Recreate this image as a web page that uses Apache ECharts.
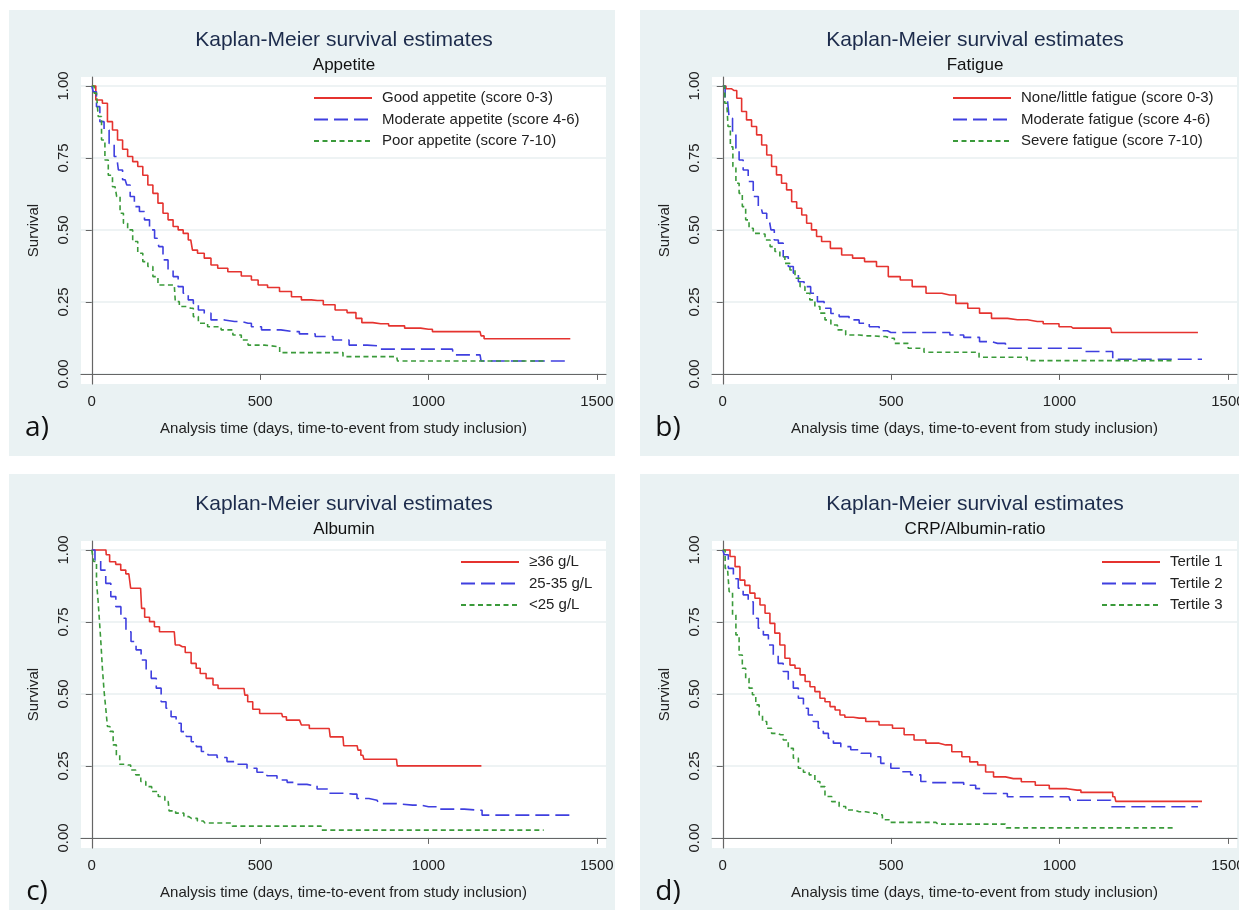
<!DOCTYPE html>
<html>
<head>
<meta charset="utf-8">
<title>Kaplan-Meier survival estimates</title>
<script src="https://cdn.jsdelivr.net/npm/echarts@6/dist/echarts.min.js"></script>
<style>
  html, body { margin: 0; padding: 0; background: #fff; }
  #chart { width: 1239px; height: 910px; }
</style>
</head>
<body>
<div id="chart"></div>
<script>
// axis ticks
const xTicks = [0, 500, 1000, 1500]
const yTicks = [0, 0.25, 0.5, 0.75, 1]

// a) Appetite  [days, survival]
const appetiteGood = [[0,1],[24,0.951],[39,0.94],[54,0.876],[69,0.847],[84,0.8125],[99,0.78],[114,0.755],[129,0.737],[144,0.72],[159,0.69],[174,0.656],[189,0.627],[204,0.593],[219,0.558],[234,0.535],[249,0.512],[264,0.5],[279,0.488],[294,0.465],[304,0.43],[324,0.419],[344,0.402],[364,0.378],[384,0.367],[424,0.355],[464,0.34],[484,0.326],[504,0.309],[540,0.30],[575,0.286],[611,0.268],[634,0.257],[670,0.255],[705,0.24],[740,0.222],[776,0.213],[793,0.193],[811,0.178],[858,0.174],[905,0.167],[953,0.159],[1000,0.155],[1023,0.147],[1153,0.147],[1159,0.132],[1171,0.122],[1421,0.122]]
const appetiteModerate = [[0,1],[9,0.98],[19,0.928],[29,0.876],[44,0.847],[59,0.80],[74,0.755],[84,0.708],[99,0.674],[109,0.656],[119,0.616],[134,0.581],[149,0.564],[164,0.535],[179,0.5],[194,0.471],[204,0.442],[219,0.396],[234,0.361],[249,0.338],[264,0.303],[279,0.28],[294,0.257],[309,0.245],[324,0.222],[344,0.211],[364,0.1875],[424,0.182],[464,0.176],[484,0.164],[524,0.153],[599,0.147],[634,0.139],[693,0.13],[740,0.118],[788,0.10],[847,0.098],[858,0.086],[1071,0.086],[1076,0.066],[1153,0.066],[1159,0.045],[1421,0.045]]
const appetitePoor = [[0,1],[14,0.975],[24,0.894],[34,0.8125],[44,0.743],[54,0.69],[69,0.65],[79,0.616],[89,0.558],[99,0.523],[114,0.5],[129,0.46],[144,0.419],[159,0.39],[174,0.373],[189,0.338],[204,0.309],[245,0.309],[251,0.251],[269,0.234],[294,0.228],[309,0.199],[324,0.176],[364,0.164],[404,0.153],[434,0.135],[454,0.118],[474,0.1],[552,0.095],[564,0.074],[740,0.074],[752,0.06],[905,0.06],[911,0.045],[1351,0.045]]

// b) Fatigue
const fatigueLittle = [[0,1],[19,0.99],[34,0.984],[49,0.957],[63,0.911],[78,0.882],[93,0.859],[108,0.83],[123,0.795],[138,0.76],[152,0.72],[167,0.691],[182,0.662],[197,0.639],[212,0.598],[227,0.575],[242,0.552],[256,0.523],[271,0.5],[286,0.477],[301,0.46],[338,0.436],[368,0.413],[403,0.402],[439,0.39],[474,0.373],[509,0.338],[545,0.326],[580,0.303],[627,0.28],[674,0.274],[710,0.245],[745,0.228],[780,0.211],[816,0.193],[875,0.188],[934,0.182],[969,0.174],[1028,0.164],[1040,0.159],[1152,0.159],[1158,0.144],[1411,0.144]]
const fatigueModerate = [[0,1],[14,0.951],[24,0.888],[34,0.836],[44,0.784],[53,0.743],[68,0.708],[83,0.668],[98,0.616],[113,0.581],[123,0.558],[138,0.535],[148,0.5],[158,0.465],[172,0.454],[187,0.407],[202,0.373],[217,0.35],[232,0.32],[251,0.303],[271,0.28],[291,0.251],[311,0.228],[331,0.21],[360,0.199],[390,0.1875],[420,0.176],[450,0.164],[479,0.15],[499,0.144],[663,0.144],[686,0.135],[745,0.127],[780,0.112],[816,0.106],[863,0.089],[1069,0.089],[1075,0.078],[1152,0.078],[1164,0.051],[1423,0.051]]
const fatigueSevere = [[0,1],[12,0.94],[19,0.859],[26,0.789],[34,0.72],[44,0.662],[53,0.627],[63,0.581],[73,0.535],[83,0.506],[98,0.488],[118,0.486],[133,0.465],[148,0.442],[162,0.425],[177,0.407],[192,0.384],[207,0.361],[222,0.332],[237,0.303],[251,0.28],[266,0.257],[281,0.234],[296,0.211],[311,0.1875],[331,0.17],[350,0.153],[380,0.135],[430,0.132],[469,0.13],[498,0.124],[521,0.106],[580,0.089],[615,0.075],[730,0.075],[792,0.058],[898,0.058],[910,0.046],[1343,0.046]]

// c) Albumin
const albuminHigh = [[0,1],[42,1],[44,0.983],[62,0.959],[80,0.95],[92,0.93],[110,0.917],[121,0.867],[145,0.867],[151,0.797],[163,0.766],[180,0.751],[192,0.733],[210,0.716],[245,0.716],[251,0.67],[269,0.664],[286,0.644],[304,0.606],[316,0.589],[328,0.571],[351,0.554],[369,0.531],[381,0.519],[452,0.519],[457,0.496],[469,0.473],[487,0.447],[510,0.432],[564,0.432],[569,0.421],[587,0.409],[617,0.409],[628,0.392],[664,0.38],[705,0.38],[711,0.351],[746,0.351],[750,0.32],[788,0.32],[793,0.305],[805,0.287],[811,0.273],[905,0.273],[909,0.25],[1157,0.25]]
const albuminMid = [[0,1],[19,0.965],[34,0.93],[49,0.884],[64,0.838],[79,0.803],[94,0.763],[109,0.716],[124,0.682],[139,0.653],[154,0.618],[169,0.583],[184,0.554],[199,0.52],[213,0.473],[228,0.45],[243,0.421],[258,0.398],[273,0.369],[288,0.352],[303,0.334],[318,0.317],[333,0.30],[357,0.288],[387,0.279],[416,0.265],[446,0.256],[476,0.242],[505,0.228],[535,0.216],[565,0.201],[595,0.193],[624,0.186],[654,0.182],[684,0.17],[723,0.155],[776,0.152],[799,0.137],[847,0.131],[858,0.119],[953,0.114],[1000,0.108],[1059,0.10],[1153,0.096],[1165,0.079],[1421,0.079]]
const albuminLow = [[0,1],[11,0.96],[17,0.89],[21,0.82],[25,0.75],[29,0.68],[34,0.59],[39,0.51],[44,0.45],[49,0.387],[59,0.37],[68,0.323],[78,0.288],[88,0.256],[108,0.253],[123,0.236],[138,0.219],[153,0.196],[168,0.178],[188,0.161],[207,0.144],[227,0.126],[232,0.094],[266,0.086],[281,0.074],[296,0.068],[331,0.059],[341,0.052],[415,0.052],[420,0.041],[681,0.041],[684,0.027],[1342,0.027]]

// d) CRP/Albumin-ratio
const crpTertile1 = [[0,1],[14,1],[29,0.977],[44,0.942],[58,0.895],[73,0.877],[88,0.85],[103,0.832],[118,0.809],[133,0.78],[147,0.745],[162,0.711],[177,0.67],[192,0.624],[207,0.6],[222,0.589],[237,0.566],[252,0.543],[266,0.525],[281,0.508],[296,0.485],[311,0.473],[326,0.456],[341,0.444],[355,0.427],[370,0.419],[405,0.416],[444,0.404],[484,0.392],[524,0.381],[553,0.358],[583,0.34],[623,0.329],[662,0.323],[698,0.299],[722,0.282],[745,0.264],[769,0.253],[792,0.229],[816,0.212],[863,0.206],[910,0.195],[946,0.183],[993,0.171],[1052,0.166],[1075,0.158],[1152,0.158],[1164,0.143],[1170,0.127],[1423,0.127]]
const crpTertile2 = [[0,1],[9,0.983],[24,0.936],[39,0.90],[53,0.867],[68,0.844],[83,0.82],[98,0.763],[113,0.728],[128,0.705],[143,0.67],[157,0.635],[172,0.606],[187,0.578],[202,0.543],[217,0.52],[232,0.485],[247,0.45],[261,0.427],[276,0.404],[291,0.381],[306,0.363],[321,0.346],[336,0.329],[365,0.317],[395,0.306],[425,0.294],[454,0.282],[484,0.259],[514,0.242],[543,0.23],[573,0.219],[603,0.196],[615,0.192],[698,0.192],[733,0.183],[769,0.171],[780,0.154],[839,0.154],[851,0.143],[1028,0.143],[1034,0.131],[1152,0.131],[1158,0.108],[1411,0.108]]
const crpTertile3 = [[0,1],[14,0.936],[24,0.855],[34,0.774],[44,0.705],[53,0.635],[63,0.589],[73,0.554],[83,0.52],[93,0.497],[103,0.462],[113,0.427],[123,0.404],[138,0.381],[152,0.363],[172,0.358],[187,0.34],[202,0.311],[217,0.277],[232,0.242],[247,0.228],[266,0.219],[281,0.196],[296,0.178],[311,0.144],[336,0.126],[355,0.109],[375,0.097],[405,0.091],[444,0.086],[464,0.08],[484,0.063],[504,0.054],[627,0.054],[639,0.048],[839,0.048],[845,0.035],[1346,0.035]]

const FONT = '"Liberation Sans", Arial, sans-serif'
const RED = '#e5332f', BLUE = '#3f3fdf', GREEN = '#3a9a3a'

const panels = [
  { tag: 'a)', sub: 'Appetite', dx: 0, dy: 0, legendX: 313,
    names: ['Good appetite (score 0-3)', 'Moderate appetite (score 4-6)', 'Poor appetite (score 7-10)'],
    data: [appetiteGood, appetiteModerate, appetitePoor] },
  { tag: 'b)', sub: 'Fatigue', dx: 631, dy: 0, legendX: 952,
    names: ['None/little fatigue (score 0-3)', 'Moderate fatigue (score 4-6)', 'Severe fatigue (score 7-10)'],
    data: [fatigueLittle, fatigueModerate, fatigueSevere] },
  { tag: 'c)', sub: 'Albumin', dx: 0, dy: 464, legendX: 460,
    names: ['\u226536 g/L', '25-35 g/L', '<25 g/L'],
    data: [albuminHigh, albuminMid, albuminLow] },
  { tag: 'd)', sub: 'CRP/Albumin-ratio', dx: 631, dy: 464, legendX: 1101,
    names: ['Tertile 1', 'Tertile 2', 'Tertile 3'],
    data: [crpTertile1, crpTertile2, crpTertile3] }
]

const styles = [
  { color: RED, type: 'solid' },
  { color: BLUE, type: [14, 6] },
  { color: GREEN, type: [5, 3.5] }
]

const chart = echarts.init(document.getElementById('chart'))

const grid = [], xAxis = [], yAxis = [], series = [], legend = [], graphic = []

panels.forEach((p, i) => {
  // panel background and texts
  graphic.push({
    type: 'rect', z: -10, silent: true,
    shape: { x: 9 + p.dx, y: 10 + p.dy, width: 606, height: 446 },
    style: { fill: '#eaf2f3' }
  })
  graphic.push({
    type: 'text', silent: true,
    style: { text: 'Kaplan-Meier survival estimates', x: 344 + p.dx, y: 40 + p.dy, align: 'center', verticalAlign: 'middle',
      fontSize: 21, fontFamily: FONT, fill: '#1c2b4b' }
  })
  graphic.push({
    type: 'text', silent: true,
    style: { text: p.sub, x: 344 + p.dx, y: 65 + p.dy, align: 'center', verticalAlign: 'middle',
      fontSize: 17, fontFamily: FONT, fill: '#111' }
  })
  graphic.push({
    type: 'text', silent: true,
    style: { text: p.tag, x: 37 + p.dx, y: 428 + p.dy, align: 'center', verticalAlign: 'middle',
      fontSize: 28, fontFamily: '"Open Sans", ' + FONT, fill: '#111' }
  })

  grid.push({
    left: 81 + p.dx, top: 77 + p.dy, width: 525, height: 307,
    outerBoundsMode: 'none',
    show: true, backgroundColor: '#fff', borderWidth: 0
  })
  xAxis.push({
    type: 'value', gridIndex: i, min: -32, max: 1527,
    name: 'Analysis time (days, time-to-event from study inclusion)',
    nameLocation: 'middle', nameGap: 37,
    nameTextStyle: { fontSize: 15, fontFamily: FONT, color: '#222' },
    axisLine: { show: true, lineStyle: { color: '#666', width: 1.2 } },
    axisTick: { show: true, length: 6, customValues: xTicks, lineStyle: { color: '#666' } },
    axisLabel: { customValues: xTicks, margin: 10, fontSize: 15, fontFamily: FONT, color: '#222',
      hideOverlap: false, formatter: v => String(v) },
    splitLine: { show: false }
  })
  yAxis.push({
    type: 'value', gridIndex: i, min: -0.035, max: 1.031,
    name: 'Survival', nameLocation: 'middle', nameGap: 40,
    nameTextStyle: { fontSize: 15, fontFamily: FONT, color: '#222' },
    axisLine: { show: true, lineStyle: { color: '#666', width: 1.2 } },
    axisTick: { show: true, length: 6, customValues: yTicks, lineStyle: { color: '#666' } },
    axisLabel: { customValues: yTicks, rotate: 90, margin: 10, fontSize: 15, fontFamily: FONT, color: '#222',
      formatter: v => v.toFixed(2) },
    splitLine: { show: true, lineStyle: { color: '#e8eff1', width: 1.5 } }
  })
  p.names.forEach((name, k) => {
    series.push({
      name, type: 'line', step: 'middle', symbol: 'none',
      xAxisIndex: i, yAxisIndex: i,
      data: p.data[k],
      itemStyle: { color: styles[k].color },
      lineStyle: { color: styles[k].color, width: 1.6, type: styles[k].type }
    })
  })
  legend.push({
    data: p.names, orient: 'vertical', left: p.legendX, top: 90 + p.dy, padding: 0,
    itemWidth: 58, itemHeight: 12, itemGap: 5.5,
    itemStyle: { opacity: 0 },
    textStyle: { fontSize: 15, lineHeight: 16, fontFamily: FONT, color: '#222', padding: [0, 0, 0, 5] }
  })
})

chart.setOption({
  animation: false,
  grid, xAxis, yAxis, series, legend, graphic
})
</script>
</body>
</html>
